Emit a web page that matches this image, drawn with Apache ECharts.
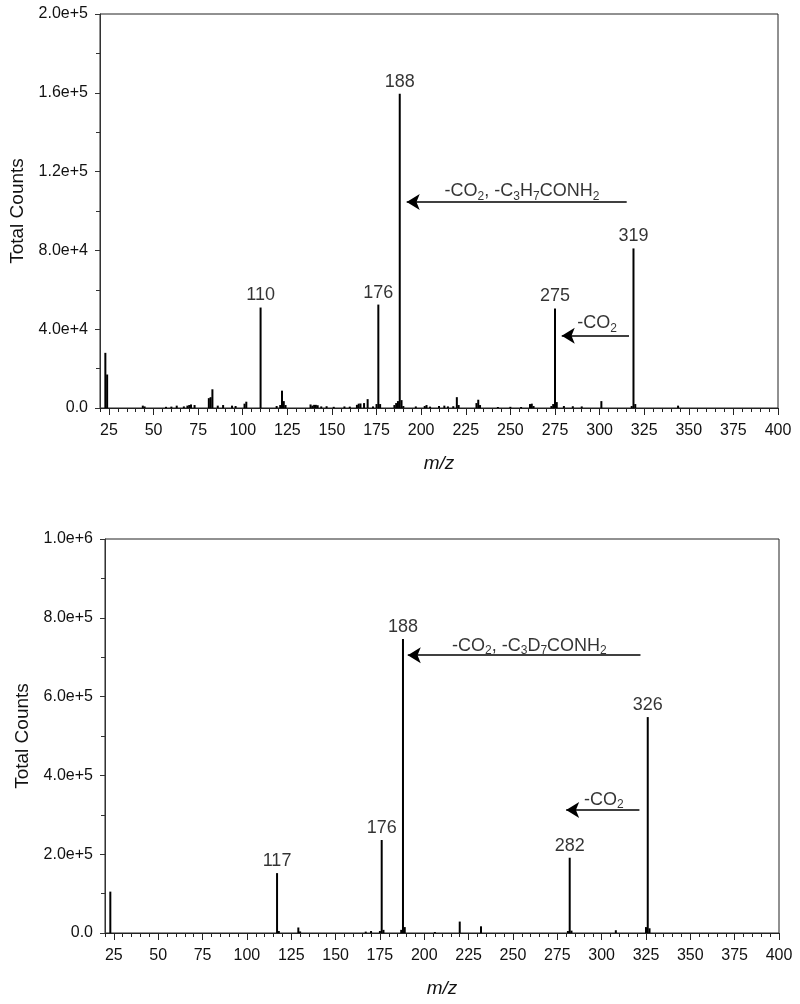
<!DOCTYPE html>
<html>
<head>
    <meta charset="utf-8">
    <title>Mass spectra</title>
    <script src="https://cdn.jsdelivr.net/npm/echarts@6/dist/echarts.min.js"></script>
</head>
<body style="margin:0;background:#fff;">
    <div id="main" style="width: 800px;height:1004px;"></div>
    <script type="text/javascript">
        // x ticks, labelled every 25
        var xTicks = [25, 50, 75, 100, 125, 150, 175, 200, 225, 250, 275, 300, 325, 350, 375, 400];

        // top spectrum (C3H7)
        var topMz = [23, 24, 44, 45, 57, 60, 63, 67, 69, 70, 71, 73, 81, 82, 83, 86, 89, 94, 96, 101, 102,
            110, 119, 121, 122, 123, 124, 138, 139, 140, 141, 142, 144, 147, 151, 157, 160, 164, 165, 166,
            168, 170, 173, 175, 176, 177, 185, 186, 187, 188, 189, 190, 197, 202, 203, 205, 210, 213, 215,
            218, 220, 221, 231, 232, 233, 243, 250, 256, 261, 262, 263, 273, 274, 275, 276, 280, 285, 290,
            301, 318, 319, 320, 344];
        var topCounts = [28000, 17000, 1200, 800, 600, 700, 1200, 800, 1200, 1500, 1800, 1500, 5000, 5500, 9500,
            1200, 1500, 1200, 1000, 2200, 3200,
            51000, 1000, 1500, 8800, 3500, 1500, 1800, 1200, 1600, 1600, 1400, 800, 900, 600, 800, 700, 1600, 2200, 2300,
            2500, 4500, 800, 2000, 52500, 2000, 1500, 2500, 3500, 159500, 4000, 1000, 800, 1000, 1500, 700, 1000, 1200, 800,
            900, 5500, 1500, 2500, 4200, 1500, 500, 600, 500, 2000, 2200, 1000, 1000, 2000, 50500, 3000, 1000, 900, 800,
            3500, 1000, 81000, 2000, 1200];
        var topLabels = [110, 176, 188, 275, 319];

        // bottom spectrum (C3D7)
        var botMz = [23, 117, 118, 129, 130, 167, 170, 175, 176, 177, 187, 188, 189, 206, 220, 232,
            281, 282, 283, 308, 325, 326, 327];
        var botCounts = [105000, 152000, 5000, 14000, 4000, 3500, 5000, 5000, 236000, 8000, 8000, 746000, 15000,
            2500, 29000, 17000, 5000, 191000, 6000, 7000, 15000, 548000, 12000];
        var botLabels = [117, 176, 188, 282, 326];

        // annotations: text centre [m/z, counts], arrows [from m/z, to m/z, counts]
        var topNotes = [[256.5, 110000, '-CO{s|2}, -C{s|3}H{s|7}CONH{s|2}'], [298.6, 43000, '-CO{s|2}']];
        var topArrows = [[315.2, 191.9, 104600], [316.5, 278.8, 36700]];
        var botNotes = [[259.3, 729000, '-CO{s|2}, -C{s|3}D{s|7}CONH{s|2}'], [301.3, 338000, '-CO{s|2}']];
        var botArrows = [[321.9, 190.7, 705000], [321.3, 280, 312000]];

        var FONT = '"Liberation Sans", Arial, sans-serif';

        function sci(v) {
            if (v === 0) return '0.0';
            var e = Math.floor(Math.log10(v) + 1e-9);
            return (v / Math.pow(10, e)).toFixed(1) + 'e+' + e;
        }

        function pairs(xs, ys) {
            return xs.map(function (x, i) { return [x, ys[i]]; });
        }

        function lookup(xs, ys, m) {
            return ys[xs.indexOf(m)];
        }

        var grids = [
            {left: 100, top: 14, width: 678, height: 394},
            {left: 105, top: 539, width: 674, height: 394}
        ];

        var xAxes = [], yAxes = [], series = [];

        [[topMz, topCounts, topLabels, topNotes, topArrows, 200000, 40000],
         [botMz, botCounts, botLabels, botNotes, botArrows, 1000000, 200000]].forEach(function (s, g) {
            var mz = s[0], counts = s[1];
            // minor ticks every 5
            xAxes.push({
                gridIndex: g, type: 'value', position: 'bottom', min: 20, max: 400, interval: 5,
                axisLine: {show: true, lineStyle: {color: '#222', width: 1}},
                axisTick: {show: true, length: 4, lineStyle: {color: '#222'}},
                axisLabel: {show: false}, splitLine: {show: false}
            });
            // major ticks + labels
            xAxes.push({
                gridIndex: g, type: 'value', position: 'bottom', min: 20, max: 400,
                name: 'm/z', nameLocation: 'middle', nameGap: 46,
                nameTextStyle: {fontFamily: FONT, fontSize: 19, fontStyle: 'italic', color: '#111'},
                axisLine: {show: false},
                axisTick: {show: true, length: 7, customValues: xTicks, lineStyle: {color: '#222'}},
                axisLabel: {show: true, customValues: xTicks, margin: 15, fontFamily: FONT, fontSize: 16, color: '#111'},
                splitLine: {show: false}
            });
            yAxes.push({
                gridIndex: g, type: 'value', min: 0, max: s[5], interval: s[6],
                name: 'Total Counts', nameLocation: 'middle', nameGap: g === 0 ? 70 : 72,
                nameTextStyle: {fontFamily: FONT, fontSize: 19, color: '#111'},
                axisLine: {show: true, lineStyle: {color: '#333', width: 1}},
                axisTick: {show: true, length: 5, lineStyle: {color: '#333'}},
                minorTick: {show: true, splitNumber: 2, length: 4, lineStyle: {color: '#333'}},
                axisLabel: {margin: 12, fontFamily: FONT, fontSize: 16, color: '#111', formatter: sci},
                splitLine: {show: false}
            });

            var xi = g * 2;
            series.push({
                type: 'bar', xAxisIndex: xi, yAxisIndex: g, barWidth: 2,
                itemStyle: {color: '#000'}, silent: true, animation: false,
                data: pairs(mz, counts),
                markLine: {
                    silent: true, symbol: ['none', 'arrow'], symbolSize: [12, 13],
                    lineStyle: {color: '#000', width: 1.5, type: 'solid'},
                    label: {show: false},
                    data: s[4].map(function (a) {
                        return [{coord: [a[0], a[2]]}, {coord: [a[1], a[2]]}];
                    })
                }
            });
            series.push({
                type: 'scatter', xAxisIndex: xi, yAxisIndex: g, symbolSize: 0, silent: true, animation: false,
                data: s[2].map(function (m) { return [m, lookup(mz, counts, m)]; }),
                label: {
                    show: true, position: 'top', distance: 3, fontFamily: FONT, fontSize: 18, color: '#000',
                    formatter: function (p) { return String(p.value[0]); }
                }
            });
            series.push({
                type: 'scatter', xAxisIndex: xi, yAxisIndex: g, symbolSize: 0, silent: true, animation: false,
                data: s[3].map(function (n) { return [n[0], n[1], n[2]]; }),
                label: {
                    show: true, position: 'inside', fontFamily: FONT, fontSize: 18, color: '#000', lineHeight: 22,
                    formatter: function (p) { return p.value[2]; },
                    rich: {s: {fontFamily: FONT, fontSize: 12, lineHeight: 22, verticalAlign: 'bottom', color: '#000'}}
                }
            });
        });

        grids.forEach(function (gr) {
            gr.show = true;
            gr.borderColor = '#222';
            gr.borderWidth = 1;
            gr.backgroundColor = 'transparent';
        });

        var myChart = echarts.init(document.getElementById('main'));
        myChart.setOption({
            animation: false,
            backgroundColor: '#fff',
            grid: grids,
            xAxis: xAxes,
            yAxis: yAxes,
            series: series
        });
    </script>
</body>
</html>
